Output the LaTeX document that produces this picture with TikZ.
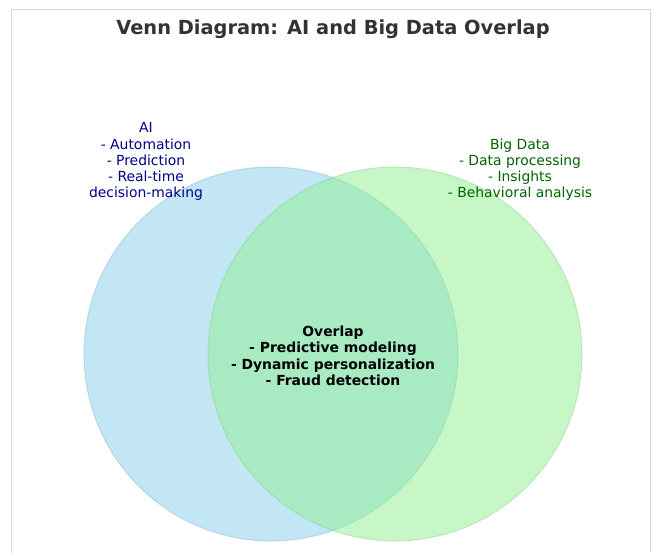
\documentclass[tikz,border=0pt]{standalone}
\usepackage{fontspec}
\setmainfont{DejaVu Sans}
\definecolor{aiblue}{HTML}{87CEEB}
\definecolor{bdgreen}{HTML}{90EE90}
\definecolor{aitext}{HTML}{00008B}
\definecolor{bdtext}{HTML}{006400}
\definecolor{titlec}{HTML}{333333}
\definecolor{framec}{HTML}{D6D6D6}
\tikzset{
  setcircle/.style={fill=#1, fill opacity=0.5, draw=#1!85!black, draw opacity=0.35, line width=1pt},
  lbl/.style={align=center, inner sep=0pt, anchor=base, font=\fontsize{13.9}{16.3}\selectfont},
}
\begin{document}
\begin{tikzpicture}[x=1pt,y=-1pt]
\useasboundingbox (0,0) rectangle (652,553);
\fill[white] (0,0) rectangle (652,553);
\draw[framec, line width=1pt] (11.5,560) -- (11.5,9.5) -- (650.5,9.5) -- (650.5,560);
\node[font=\fontsize{19.4}{23}\selectfont\bfseries, text=titlec, anchor=base, inner sep=0pt] (title) at (333,35) {Venn Diagram: AI and Big Data Overlap};
\path[setcircle=aiblue] (271,354) circle[radius=187];
\path[setcircle=bdgreen] (395,354) circle[radius=187];
\node[lbl, text=aitext] (ai) at (146,198) {AI\\- Automation\\- Prediction\\- Real-time\\decision-making};
\node[lbl, text=bdtext] (bd) at (520,198) {Big Data\\- Data processing\\- Insights\\- Behavioral analysis};
\node[lbl, font=\fontsize{13.9}{16.3}\selectfont\bfseries] (ov) at (333,385.5) {Overlap\\- Predictive modeling\\- Dynamic personalization\\- Fraud detection};
\end{tikzpicture}
\end{document}
